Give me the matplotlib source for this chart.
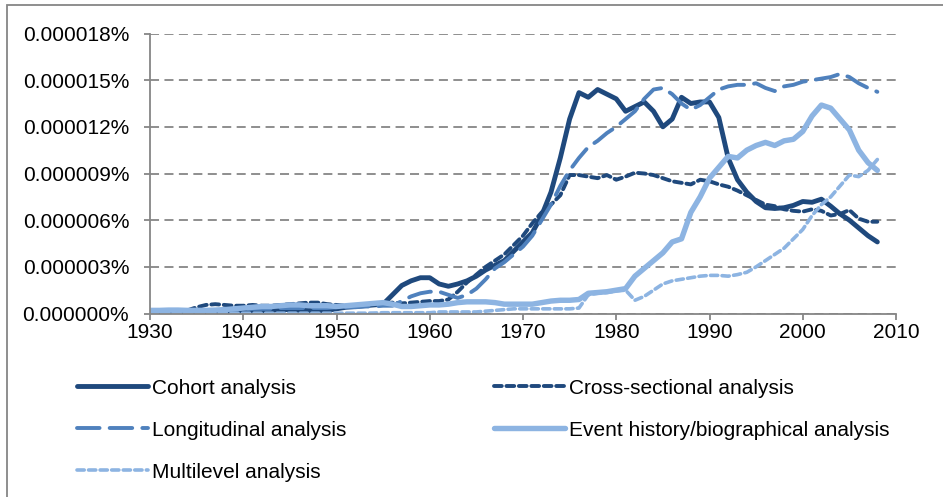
import numpy as np
import matplotlib
matplotlib.use("Agg")
import matplotlib.pyplot as plt
from matplotlib.patches import Rectangle
from matplotlib.ticker import FuncFormatter

plt.rcParams['font.family'] = ['Liberation Sans', 'DejaVu Sans']

years = list(range(1930, 2009))

# values in units of 1e-6 percent
cohort = [0.1, 0.1, 0.08, 0.08, 0.05, 0.05, 0.05, 0.05, 0.1, 0.1,
          0.1, 0.15, 0.15, 0.2, 0.25, 0.25, 0.2, 0.2, 0.15, 0.2,
          0.3, 0.4, 0.45, 0.5, 0.55, 0.6, 1.2, 1.8, 2.1, 2.3,
          2.3, 1.9, 1.75, 1.9, 2.1, 2.4, 2.8, 3.1, 3.4, 4.0,
          4.6, 5.2, 6.3, 7.8, 10.0, 12.5, 14.2, 13.9, 14.4, 14.1,
          13.8, 13.0, 13.3, 13.6, 13.0, 12.0, 12.5, 13.9, 13.5, 13.6,
          13.6, 12.6, 10.0, 8.6, 7.8, 7.2, 6.8, 6.75, 6.8, 6.95,
          7.2, 7.15, 7.35, 6.9, 6.4, 6.0, 5.5, 5.0, 4.6]

cross_sectional = [0.1, 0.1, 0.1, 0.15, 0.2, 0.4, 0.55, 0.6, 0.55, 0.5,
                   0.5, 0.55, 0.5, 0.5, 0.55, 0.6, 0.65, 0.7, 0.7, 0.6,
                   0.55, 0.5, 0.55, 0.6, 0.6, 0.65, 0.7, 0.65, 0.7, 0.75,
                   0.8, 0.8, 0.9, 1.4, 2.0, 2.5, 3.0, 3.4, 3.8, 4.4,
                   5.0, 5.8, 6.5, 7.0, 7.6, 8.9, 8.9, 8.8, 8.7, 8.9,
                   8.6, 8.8, 9.05, 9.0, 8.9, 8.7, 8.5, 8.4, 8.3, 8.6,
                   8.5, 8.3, 8.15, 7.9, 7.6, 7.3, 7.0, 6.9, 6.7, 6.6,
                   6.55, 6.7, 6.6, 6.3, 6.4, 6.65, 6.1, 5.9, 5.9]

longitudinal = [0.2, 0.2, 0.2, 0.2, 0.2, 0.2, 0.2, 0.2, 0.25, 0.25,
                0.3, 0.3, 0.3, 0.3, 0.35, 0.35, 0.35, 0.35, 0.35, 0.35,
                0.4, 0.4, 0.4, 0.45, 0.45, 0.5, 0.5, 0.8, 1.1, 1.3,
                1.4, 1.4, 1.2, 1.0, 1.2, 1.6, 2.2, 2.9, 3.3, 3.8,
                4.3, 5.0, 6.0, 7.0, 8.2, 9.2, 10.0, 10.7, 11.1, 11.6,
                12.0, 12.5, 13.0, 13.8, 14.4, 14.5, 14.1, 13.5, 13.1, 13.4,
                13.9, 14.4, 14.6, 14.7, 14.7, 14.8, 14.5, 14.3, 14.6, 14.7,
                14.9, 15.0, 15.1, 15.2, 15.4, 15.2, 14.8, 14.5, 14.25]

event_history = [0.2, 0.2, 0.22, 0.22, 0.2, 0.2, 0.2, 0.22, 0.25, 0.3,
                 0.35, 0.4, 0.45, 0.45, 0.5, 0.55, 0.55, 0.5, 0.5, 0.5,
                 0.45, 0.5, 0.55, 0.6, 0.65, 0.7, 0.6, 0.45, 0.45, 0.5,
                 0.55, 0.55, 0.6, 0.7, 0.75, 0.75, 0.75, 0.7, 0.6, 0.6,
                 0.6, 0.6, 0.7, 0.8, 0.85, 0.85, 0.9, 1.3, 1.35, 1.4,
                 1.5, 1.6, 2.4, 2.9, 3.4, 3.9, 4.6, 4.8, 6.5, 7.5,
                 8.7, 9.4, 10.1, 10.0, 10.5, 10.8, 11.0, 10.8, 11.1, 11.2,
                 11.7, 12.7, 13.4, 13.2, 12.5, 11.8, 10.5, 9.7, 9.2]

multilevel = [0.02, 0.02, 0.02, 0.02, 0.02, 0.02, 0.02, 0.02, 0.02, 0.02,
              0.02, 0.02, 0.02, 0.02, 0.02, 0.02, 0.02, 0.02, 0.02, 0.02,
              0.02, 0.02, 0.02, 0.02, 0.03, 0.05, 0.05, 0.05, 0.05, 0.05,
              0.05, 0.1, 0.1, 0.1, 0.1, 0.1, 0.15, 0.2, 0.25, 0.3,
              0.3, 0.3, 0.3, 0.3, 0.3, 0.3, 0.35, 1.2, 1.3, 1.35,
              1.45, 1.5, 0.85, 1.1, 1.5, 1.9, 2.1, 2.2, 2.3, 2.4,
              2.45, 2.45, 2.4, 2.5, 2.65, 3.0, 3.4, 3.8, 4.2, 4.8,
              5.4, 6.3, 7.0, 7.5, 8.2, 8.9, 8.8, 9.2, 9.9]

labels = ["Cohort analysis", "Cross-sectional analysis", "Longitudinal analysis",
          "Event history/biographical analysis", "Multilevel analysis"]

dark = '#1F497D'
mid = '#4F81BD'
light = '#8DB4E2'

fig = plt.figure(figsize=(9.43, 4.97), dpi=100)
ax = fig.add_axes([150 / 943, 1 - 313.5 / 497, 746 / 943, 280 / 497])

l1, = ax.plot(years, cohort, color=dark, lw=3.5, solid_capstyle='round',
              solid_joinstyle='round', label=labels[0])
l2, = ax.plot(years, cross_sectional, color=dark, lw=2.8, ls=(0, (2.0, 1.2)),
              dash_capstyle='round', label=labels[1])
l3, = ax.plot(years, longitudinal, color=mid, lw=2.8, ls=(0, (5.8, 2.6)),
              dash_capstyle='round', label=labels[2])
l4, = ax.plot(years, event_history, color=light, lw=3.9, solid_capstyle='round',
              solid_joinstyle='round', label=labels[3])
l5, = ax.plot(years, multilevel, color=light, lw=2.6, ls=(0, (2.0, 1.2)),
              dash_capstyle='round', label=labels[4])

ax.set_xlim(1930, 2010)
ax.set_ylim(0, 18)
ax.set_xticks(range(1930, 2011, 10))
ax.set_yticks(range(0, 19, 3))
ax.yaxis.set_major_formatter(FuncFormatter(lambda v, p: f"{v / 1e6:.6f}%"))

ax.grid(axis='y', color='#868686', lw=1.3, ls=(0, (5, 3)))
ax.set_axisbelow(True)
for s in ['top', 'right']:
    ax.spines[s].set_visible(False)
for s in ['left', 'bottom']:
    ax.spines[s].set_color('#868686')
    ax.spines[s].set_linewidth(1.3)
ax.tick_params(axis='both', colors='#868686', labelcolor='black', labelsize=15,
               length=4, width=1.3, direction='out')
ax.tick_params(axis='y', pad=11)
ax.tick_params(axis='x', pad=3)

fig.legend([l1, l3, l5, l2, l4],
           [labels[0], labels[2], labels[4], labels[1], labels[3]],
           ncol=2, frameon=False, fontsize=15, loc='upper left',
           bbox_to_anchor=(58 / 943, 1 - 360 / 497), handlelength=3.4,
           handletextpad=0.2, columnspacing=7.1, labelspacing=1.1)

fig.add_artist(Rectangle((7 / 943, -0.1), 1.2, 1 - 5 / 497 + 0.1,
                         transform=fig.transFigure, fill=False,
                         edgecolor='#868686', lw=1.3))

fig.savefig('out.png', dpi=100)
